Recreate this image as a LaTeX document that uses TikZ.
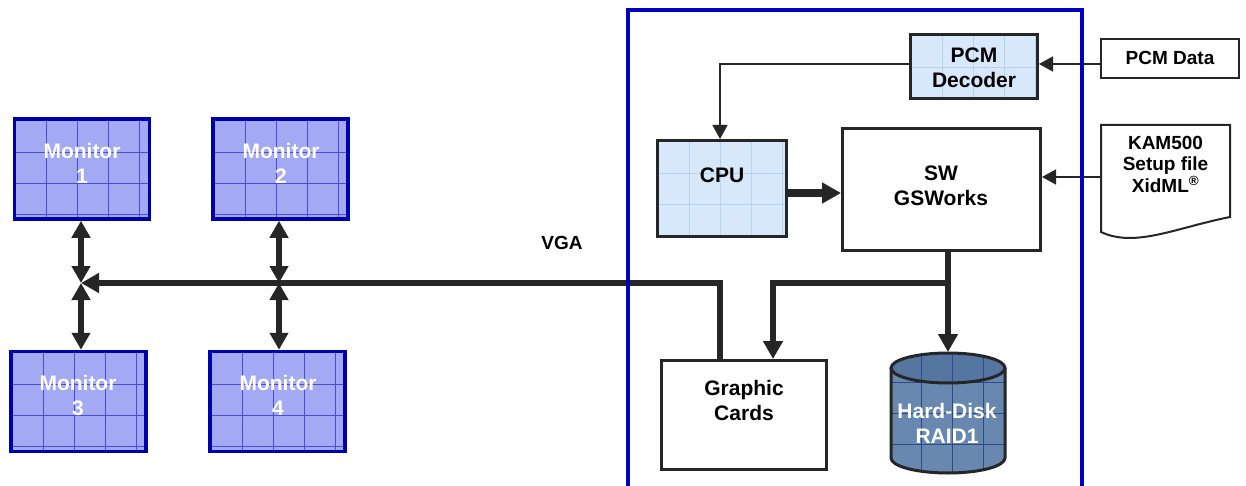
\documentclass[tikz,border=0pt]{standalone}
\usepackage{fontspec}
\setmainfont{Liberation Sans}
\usetikzlibrary{arrows.meta}
\definecolor{monf}{HTML}{A4A9F3}
\definecolor{monb}{HTML}{0000AA}
\definecolor{mong}{HTML}{4A4AE6}
\definecolor{cpuf}{HTML}{D8E8FB}
\definecolor{cpug}{HTML}{B4D2F2}
\definecolor{ink}{HTML}{262626}
\definecolor{framec}{HTML}{0000C0}
\definecolor{hdf}{HTML}{6888B0}
\definecolor{hdt}{HTML}{5676A2}
\definecolor{hdg}{HTML}{2C4C88}
\tikzset{
  txt/.style={font=\fontsize{21pt}{25pt}\selectfont\bfseries, align=center, inner sep=0pt, text=black},
  wtxt/.style={txt, text=white},
  smalltxt/.style={txt, font=\fontsize{19pt}{21.5pt}\selectfont\bfseries},
  boxgrid/.style={path picture={
    \foreach \k in {32,63,94,125}{\draw[#1,line width=0.7pt] ([xshift=\k pt]path picture bounding box.north west) -- ([xshift=\k pt]path picture bounding box.south west);}
    \foreach \k in {33,64,95}{\draw[#1,line width=0.7pt] ([yshift=-\k pt]path picture bounding box.north west) -- ([yshift=-\k pt]path picture bounding box.north east);}
  }},
  monbox/.style={draw=monb, line width=3.5pt, fill=monf, minimum width=135pt, minimum height=100pt, inner sep=0pt, boxgrid=mong},
  blkbox/.style={draw=ink, line width=3pt, fill=white, inner sep=0pt},
  bluebox/.style={blkbox, fill=cpuf, boxgrid=cpug},
  thinarr/.style={draw=ink, line width=1.5pt, -{Triangle[length=14pt,width=15pt]}},
  busline/.style={draw=ink, line width=5.5pt},
  busarr/.style={busline, -{Triangle[length=18pt,width=19pt]}},
  dblarr/.style={busline, {Triangle[length=17pt,width=18pt]}-{Triangle[length=17pt,width=18pt]}},
  framestyle/.style={draw=framec, line width=3.5pt}
}
\begin{document}
\begin{tikzpicture}[x=1pt,y=-1pt]
\useasboundingbox (0,0) rectangle (1246,486);

% monitors
\node[monbox] (m1) at (82,169) {};
\node[monbox] (m2) at (280.5,169) {};
\node[monbox] (m3) at (78.5,401.5) {};
\node[monbox] (m4) at (277.5,401.5) {};
\node[wtxt] (m1t) at (82,163) {Monitor\\1};
\node[wtxt] (m2t) at (281,163) {Monitor\\2};
\node[wtxt] (m3t) at (78,395.5) {Monitor\\3};
\node[wtxt] (m4t) at (278,395.5) {Monitor\\4};

\coordinate (j1) at (81,283);
\coordinate (j2) at (279,283);

% inner boxes
\node[bluebox, minimum width=127pt, minimum height=64pt] (pcmdec) at (974,66.5) {};
\node[txt] (pcmdect) at (974,67.5) {PCM\\Decoder};
\node[blkbox, line width=2pt, minimum width=138pt, minimum height=39pt] (pcmdata) at (1170,58.5) {};
\node[smalltxt] (pcmdatat) at (1170,57.5) {PCM Data};
\node[bluebox, minimum width=129pt, minimum height=96pt] (cpu) at (722,188.5) {};
\node[txt] (cput) at (722,175.5) {CPU};
\node[blkbox, minimum width=198pt, minimum height=122pt] (sw) at (941.5,189.5) {};
\node[txt] (swt) at (941,185.5) {SW\\GSWorks};
\node[blkbox, minimum width=165pt, minimum height=109pt] (gc) at (744,415) {};
\node[txt] (gct) at (744,400.5) {Graphic\\Cards};

% document shape
\draw[draw=ink, line width=2pt, fill=white] (1101,232) -- (1101,125) -- (1230,125) -- (1230,217)
  .. controls (1175,228) and (1135,248) .. (1101,232) -- cycle;
\node[smalltxt, minimum width=129pt] (doc) at (1165.5,164) {KAM500\\Setup file\\XidML\textsuperscript{®}};

% hard disk
\fill[hdf] (891,368) -- (891,458) arc[start angle=180, end angle=360, x radius=57pt, y radius=15pt]
  -- (1005,368) arc[start angle=0, end angle=180, x radius=57pt, y radius=15pt] -- cycle;
\fill[hdt] (948,368) ellipse[x radius=57pt, y radius=15pt];
\begin{scope}
  \clip (891,368) -- (891,458) arc[start angle=180, end angle=360, x radius=57pt, y radius=15pt]
    -- (1005,368) arc[start angle=0, end angle=180, x radius=57pt, y radius=15pt] -- cycle;
  \foreach \k in {921,952,983}{\draw[hdg, line width=0.7pt] (\k,340) -- (\k,480);}
  \foreach \k in {382,413,444}{\draw[hdg, line width=0.7pt] (880,\k) -- (1010,\k);}
\end{scope}
\draw[ink, line width=3pt] (891,368) -- (891,458) arc[start angle=180, end angle=360, x radius=57pt, y radius=15pt]
  -- (1005,368);
\draw[ink, line width=3pt] (948,368) ellipse[x radius=57pt, y radius=15pt];
\coordinate (hdtop) at (948,352);
\node[wtxt] (hd) at (947,423) {Hard-Disk\\RAID1};

% connectors
\draw[thinarr] (pcmdata.west |- 0,64) -- (pcmdec.east |- 0,64);
\draw[thinarr] (pcmdec.west |- 0,64) -| (cpu.north -| 720,0);
\draw[thinarr] (doc.west |- 0,177) -- (sw.east |- 0,177);
\draw[busline, line width=8pt, -{Triangle[length=19pt,width=20pt]}] (cpu.east |- 0,193) -- (sw.west |- 0,193);
\coordinate (br) at (948,283);
\draw[busarr] (sw.south -| hdtop) -- (hdtop);
\draw[busarr] (br) -| (gc.north -| 773,0);
\draw[busarr] (gc.north -| 720,0) |- (j1);
\draw[dblarr] (m1.south -| j1) -- (j1);
\draw[dblarr] (j1) -- (m3.north -| j1);
\draw[dblarr] (m2.south -| j2) -- (j2);
\draw[dblarr] (j2) -- (m4.north -| j2);

\node[smalltxt] (vga) at (562,243) {VGA};

% frame
\draw[framestyle] (628,500) -- (628,10) -- (1082,10) -- (1082,500);
\end{tikzpicture}
\end{document}
